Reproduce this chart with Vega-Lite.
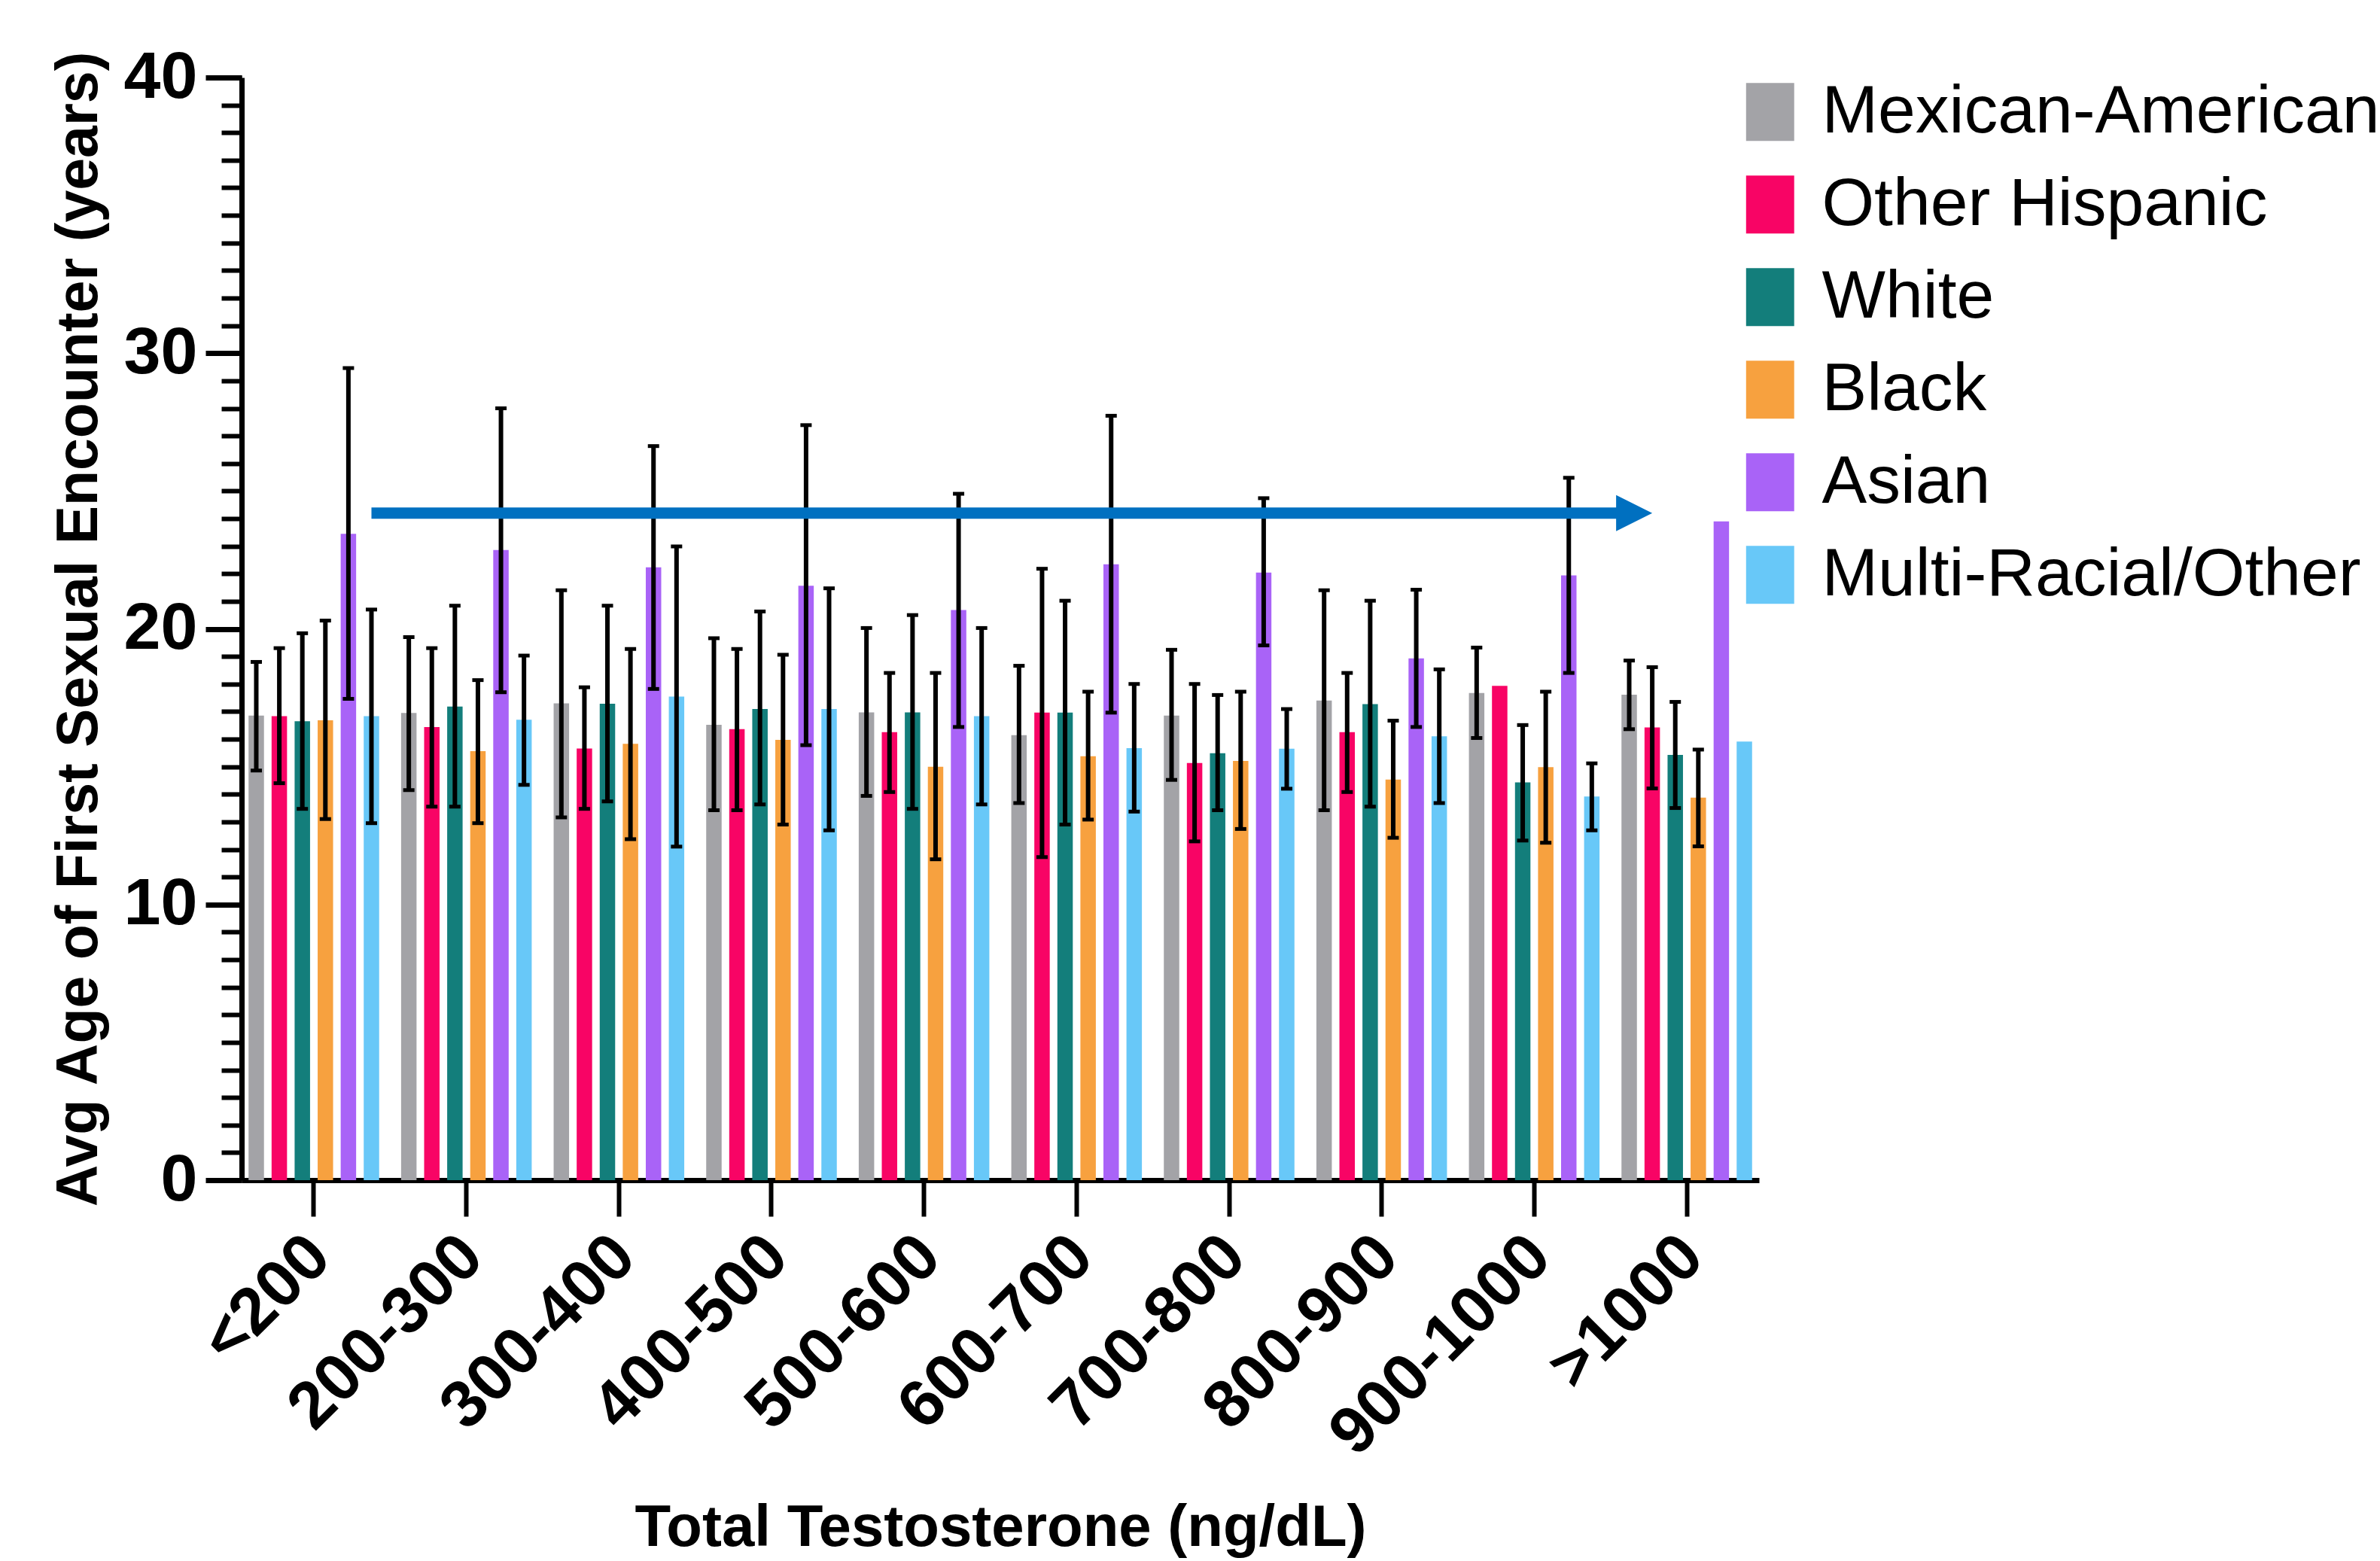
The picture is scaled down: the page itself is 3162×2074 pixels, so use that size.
{
  "$schema": "https://vega.github.io/schema/vega-lite/v6.json",
  "width": 2016,
  "height": 1465,
  "autosize": {"type": "none"},
  "padding": {"left": 321, "top": 103, "right": 825, "bottom": 506},
  "background": "white",
  "config": {"view": {"stroke": null}, "font": "Liberation Sans"},
  "datasets": {
    "bars": [
      {"group": "<200", "race": "Mexican-American", "mean": 16.85, "lo": 14.86, "hi": 18.8},
      {"group": "<200", "race": "Other Hispanic", "mean": 16.83, "lo": 14.4, "hi": 19.3},
      {"group": "<200", "race": "White", "mean": 16.65, "lo": 13.47, "hi": 19.84},
      {"group": "<200", "race": "Black", "mean": 16.68, "lo": 13.1, "hi": 20.3},
      {"group": "<200", "race": "Asian", "mean": 23.45, "lo": 17.46, "hi": 29.46},
      {"group": "<200", "race": "Multi-Racial/Other", "mean": 16.83, "lo": 12.95, "hi": 20.7},
      {"group": "200-300", "race": "Mexican-American", "mean": 16.95, "lo": 14.15, "hi": 19.7},
      {"group": "200-300", "race": "Other Hispanic", "mean": 16.44, "lo": 13.55, "hi": 19.3},
      {"group": "200-300", "race": "White", "mean": 17.18, "lo": 13.55, "hi": 20.84},
      {"group": "200-300", "race": "Black", "mean": 15.56, "lo": 12.95, "hi": 18.14},
      {"group": "200-300", "race": "Asian", "mean": 22.86, "lo": 17.7, "hi": 28.0},
      {"group": "200-300", "race": "Multi-Racial/Other", "mean": 16.7, "lo": 14.34, "hi": 19.03},
      {"group": "300-400", "race": "Mexican-American", "mean": 17.3, "lo": 13.16, "hi": 21.4},
      {"group": "300-400", "race": "Other Hispanic", "mean": 15.66, "lo": 13.47, "hi": 17.88},
      {"group": "300-400", "race": "White", "mean": 17.28, "lo": 13.74, "hi": 20.84},
      {"group": "300-400", "race": "Black", "mean": 15.83, "lo": 12.37, "hi": 19.27},
      {"group": "300-400", "race": "Asian", "mean": 22.23, "lo": 17.82, "hi": 26.63},
      {"group": "300-400", "race": "Multi-Racial/Other", "mean": 17.54, "lo": 12.1, "hi": 22.99},
      {"group": "400-500", "race": "Mexican-American", "mean": 16.52, "lo": 13.42, "hi": 19.66},
      {"group": "400-500", "race": "Other Hispanic", "mean": 16.36, "lo": 13.42, "hi": 19.27},
      {"group": "400-500", "race": "White", "mean": 17.09, "lo": 13.63, "hi": 20.63},
      {"group": "400-500", "race": "Black", "mean": 15.97, "lo": 12.9, "hi": 19.06},
      {"group": "400-500", "race": "Asian", "mean": 21.56, "lo": 15.78, "hi": 27.39},
      {"group": "400-500", "race": "Multi-Racial/Other", "mean": 17.09, "lo": 12.69, "hi": 21.47},
      {"group": "500-600", "race": "Mexican-American", "mean": 16.97, "lo": 13.94, "hi": 20.03},
      {"group": "500-600", "race": "Other Hispanic", "mean": 16.25, "lo": 14.08, "hi": 18.4},
      {"group": "500-600", "race": "White", "mean": 16.97, "lo": 13.47, "hi": 20.5},
      {"group": "500-600", "race": "Black", "mean": 15.0, "lo": 11.64, "hi": 18.4},
      {"group": "500-600", "race": "Asian", "mean": 20.68, "lo": 16.44, "hi": 24.9},
      {"group": "500-600", "race": "Multi-Racial/Other", "mean": 16.83, "lo": 13.63, "hi": 20.03},
      {"group": "600-700", "race": "Mexican-American", "mean": 16.14, "lo": 13.68, "hi": 18.66},
      {"group": "600-700", "race": "Other Hispanic", "mean": 16.96, "lo": 11.72, "hi": 22.18},
      {"group": "600-700", "race": "White", "mean": 16.96, "lo": 12.9, "hi": 21.02},
      {"group": "600-700", "race": "Black", "mean": 15.38, "lo": 13.08, "hi": 17.72},
      {"group": "600-700", "race": "Asian", "mean": 22.34, "lo": 16.96, "hi": 27.73},
      {"group": "600-700", "race": "Multi-Racial/Other", "mean": 15.67, "lo": 13.37, "hi": 18.0},
      {"group": "700-800", "race": "Mexican-American", "mean": 16.85, "lo": 14.52, "hi": 19.24},
      {"group": "700-800", "race": "Other Hispanic", "mean": 15.13, "lo": 12.29, "hi": 18.0},
      {"group": "700-800", "race": "White", "mean": 15.49, "lo": 13.42, "hi": 17.6},
      {"group": "700-800", "race": "Black", "mean": 15.21, "lo": 12.74, "hi": 17.72},
      {"group": "700-800", "race": "Asian", "mean": 22.04, "lo": 19.4, "hi": 24.74},
      {"group": "700-800", "race": "Multi-Racial/Other", "mean": 15.65, "lo": 14.2, "hi": 17.09},
      {"group": "800-900", "race": "Mexican-American", "mean": 17.4, "lo": 13.42, "hi": 21.4},
      {"group": "800-900", "race": "Other Hispanic", "mean": 16.25, "lo": 14.08, "hi": 18.4},
      {"group": "800-900", "race": "White", "mean": 17.27, "lo": 13.55, "hi": 21.02},
      {"group": "800-900", "race": "Black", "mean": 14.53, "lo": 12.42, "hi": 16.67},
      {"group": "800-900", "race": "Asian", "mean": 18.93, "lo": 16.44, "hi": 21.42},
      {"group": "800-900", "race": "Multi-Racial/Other", "mean": 16.1, "lo": 13.68, "hi": 18.53},
      {"group": "900-1000", "race": "Mexican-American", "mean": 17.67, "lo": 16.04, "hi": 19.32},
      {"group": "900-1000", "race": "Other Hispanic", "mean": 17.93, "lo": null, "hi": null},
      {"group": "900-1000", "race": "White", "mean": 14.43, "lo": 12.32, "hi": 16.51},
      {"group": "900-1000", "race": "Black", "mean": 14.98, "lo": 12.24, "hi": 17.72},
      {"group": "900-1000", "race": "Asian", "mean": 21.94, "lo": 18.4, "hi": 25.48},
      {"group": "900-1000", "race": "Multi-Racial/Other", "mean": 13.92, "lo": 12.69, "hi": 15.12},
      {"group": ">1000", "race": "Mexican-American", "mean": 17.61, "lo": 16.36, "hi": 18.85},
      {"group": ">1000", "race": "Other Hispanic", "mean": 16.42, "lo": 14.21, "hi": 18.61},
      {"group": ">1000", "race": "White", "mean": 15.43, "lo": 13.5, "hi": 17.35},
      {"group": ">1000", "race": "Black", "mean": 13.88, "lo": 12.11, "hi": 15.62},
      {"group": ">1000", "race": "Asian", "mean": 23.9, "lo": null, "hi": null},
      {"group": ">1000", "race": "Multi-Racial/Other", "mean": 15.91, "lo": null, "hi": null}
    ],
    "arrow": [
      {"group": "<200", "race": "Multi-Racial/Other", "v": 24.2, "part": "shaft"},
      {"group": ">1000", "race": "Mexican-American", "v": 24.2, "part": "shaft"},
      {"group": ">1000", "race": "Other Hispanic", "v": 24.2, "part": "tip"}
    ]
  },
  "encoding": {
    "x": {
      "field": "group",
      "type": "nominal",
      "sort": ["<200", "200-300", "300-400", "400-500", "500-600", "600-700", "700-800", "800-900", "900-1000", ">1000"],
      "scale": {"paddingInner": 0.094, "paddingOuter": 0.0206},
      "axis": {
        "title": "Total Testosterone (ng/dL)",
        "labelAngle": -45,
        "labelAlign": "right",
        "labelBaseline": "middle",
        "labelFontSize": 88,
        "labelFontWeight": "bold",
        "labelColor": "black",
        "labelPadding": 40,
        "labelOffset": 8,
        "labelLimit": 0,
        "tickSize": 48,
        "tickWidth": 6,
        "tickColor": "black",
        "domainColor": "black",
        "domainWidth": 7,
        "titleFontSize": 78,
        "titleFontWeight": "bold",
        "titleColor": "black",
        "titleBaseline": "alphabetic",
        "titleY": 485,
        "grid": false
      }
    },
    "xOffset": {
      "field": "race",
      "type": "nominal",
      "sort": ["Mexican-American", "Other Hispanic", "White", "Black", "Asian", "Multi-Racial/Other"],
      "scale": {"paddingInner": 0.33, "paddingOuter": 0.165}
    }
  },
  "layer": [
    {
      "data": {"name": "bars"},
      "mark": {"type": "bar"},
      "encoding": {
        "y": {
          "field": "mean",
          "type": "quantitative",
          "scale": {"domain": [0, 40], "nice": false},
          "axis": {
            "orient": "left",
            "title": "Avg Age of First Sexual Encounter (years)",
            "values": [0, 10, 20, 30, 40],
            "tickSize": 48,
            "tickWidth": 7,
            "tickColor": "black",
            "domainColor": "black",
            "domainWidth": 7,
            "labelFontSize": 88,
            "labelFontWeight": "bold",
            "labelColor": "black",
            "labelPadding": 11,
            "titleFontSize": 77,
            "titleFontWeight": "bold",
            "titleColor": "black",
            "titlePadding": 20,
            "grid": false
          }
        },
        "color": {
          "field": "race",
          "type": "nominal",
          "scale": {
            "domain": ["Mexican-American", "Other Hispanic", "White", "Black", "Asian", "Multi-Racial/Other"],
            "range": ["#a3a3a7", "#f80465", "#137e7b", "#f7a13f", "#a963f7", "#68c8f8"]
          },
          "legend": {
            "orient": "none",
            "legendX": 1986,
            "legendY": 1,
            "title": null,
            "symbolType": "M-0.83,-1L0.83,-1L0.83,1L-0.83,1Z",
            "symbolSize": 5929,
            "symbolStrokeWidth": 0,
            "symbolOpacity": 1,
            "labelFontSize": 89.5,
            "labelFont": "Liberation Sans",
            "labelColor": "black",
            "labelLimit": 0,
            "rowPadding": 32,
            "labelOffset": 24,
            "padding": 0
          }
        }
      }
    },
    {
      "data": {"name": "bars"},
      "mark": {"type": "rule", "color": "black", "strokeWidth": 6},
      "encoding": {
        "y": {
          "field": "lo",
          "type": "quantitative",
          "scale": {"domain": [0, 40], "nice": false},
          "axis": {
            "orient": "left",
            "values": [0, 1, 2, 3, 4, 5, 6, 7, 8, 9, 10, 11, 12, 13, 14, 15, 16, 17, 18, 19, 20, 21, 22, 23, 24, 25, 26, 27, 28, 29, 30, 31, 32, 33, 34, 35, 36, 37, 38, 39, 40],
            "tickSize": 27,
            "tickWidth": 6,
            "tickColor": "black",
            "labels": false,
            "domain": false,
            "title": null,
            "grid": false
          }
        },
        "y2": {"field": "hi"}
      }
    },
    {
      "data": {"name": "bars"},
      "mark": {"type": "tick", "color": "black", "thickness": 5, "size": 15, "opacity": 1},
      "encoding": {
        "y": {"field": "lo", "type": "quantitative", "scale": {"domain": [0, 40], "nice": false}, "axis": null}
      }
    },
    {
      "data": {"name": "bars"},
      "mark": {"type": "tick", "color": "black", "thickness": 5, "size": 15, "opacity": 1},
      "encoding": {
        "y": {"field": "hi", "type": "quantitative", "scale": {"domain": [0, 40], "nice": false}, "axis": null}
      }
    },
    {
      "data": {"name": "arrow"},
      "transform": [{"filter": "datum.part === 'shaft'"}],
      "mark": {"type": "line", "color": "#0070c0", "strokeWidth": 15, "strokeCap": "butt"},
      "encoding": {
        "y": {"field": "v", "type": "quantitative", "scale": {"domain": [0, 40], "nice": false}, "axis": null}
      }
    },
    {
      "data": {"name": "arrow"},
      "transform": [{"filter": "datum.part === 'tip'"}],
      "mark": {"type": "point", "shape": "M-2,-1L0,0L-2,1Z", "size": 2304, "filled": true, "color": "#0070c0", "opacity": 1, "strokeWidth": 0},
      "encoding": {
        "y": {"field": "v", "type": "quantitative", "scale": {"domain": [0, 40], "nice": false}, "axis": null}
      }
    }
  ],
  "resolve": {"axis": {"y": "independent"}}
}
